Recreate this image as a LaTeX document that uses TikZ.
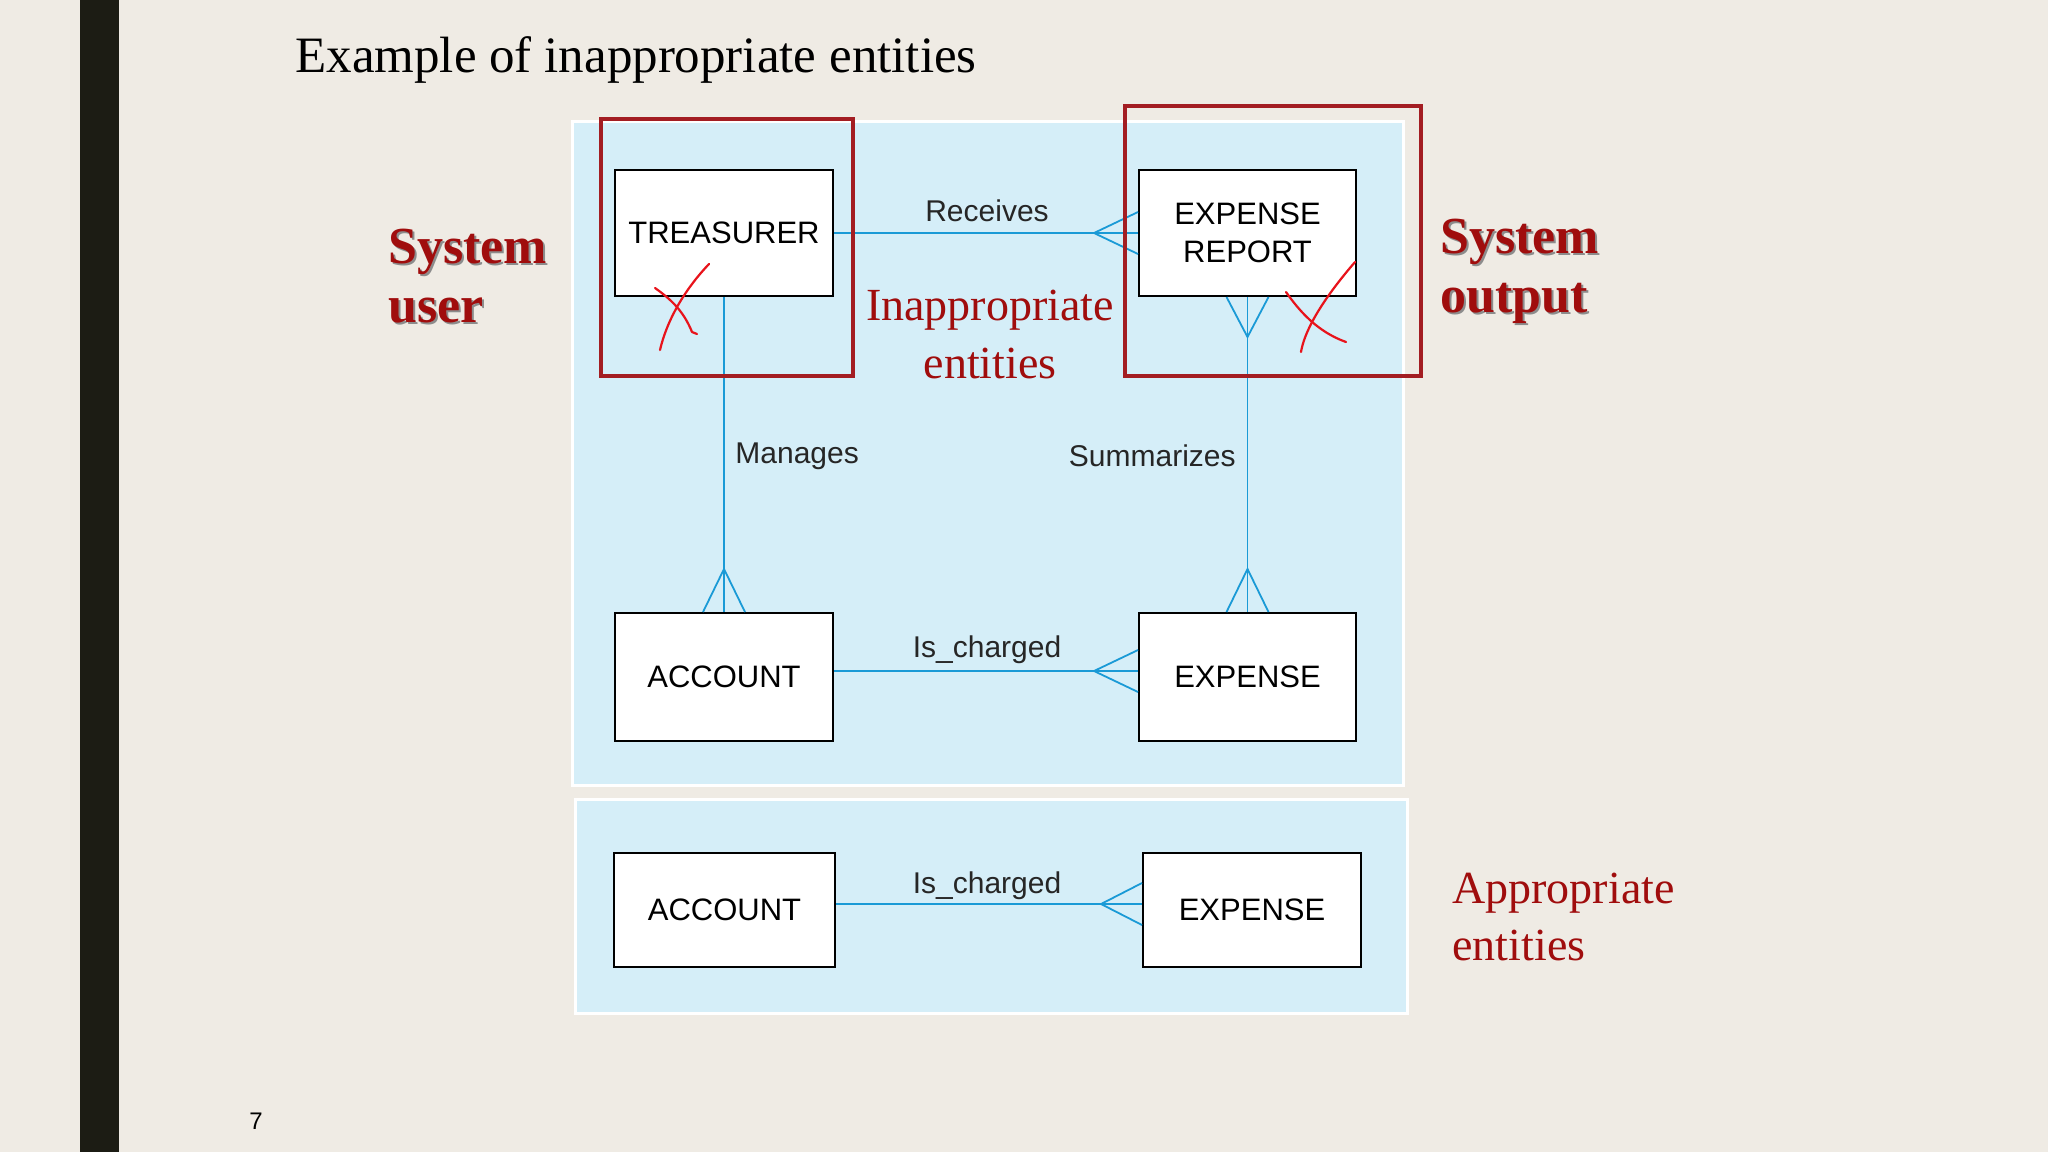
\documentclass[tikz,border=0pt]{standalone}
\usepackage{fontspec}
\setmainfont{Liberation Serif}
\setsansfont{Liberation Sans}
\usetikzlibrary{calc}
\definecolor{slidebg}{HTML}{EFEBE4}
\definecolor{barblack}{HTML}{1C1C14}
\definecolor{panelblue}{HTML}{D5EEF8}
\definecolor{relblue}{HTML}{1A9AD6}
\definecolor{darkred}{HTML}{A00D0D}
\definecolor{boxred}{HTML}{A31D22}
\definecolor{penred}{HTML}{E8131B}
\tikzset{
  panel/.style={fill=panelblue, draw=white, line width=1.5pt},
  ent/.style={draw=black, fill=white, line width=1pt, inner sep=0pt,
    font=\sffamily\fontsize{15.5}{19}\selectfont, align=center},
  rel/.style={draw=relblue, line width=0.9pt},
  rellabel/.style={font=\sffamily\fontsize{15}{18}\selectfont, text=black!85, inner sep=0pt},
  redframe/.style={draw=boxred, line width=1.7pt},
  redtext/.style={font=\fontsize{23}{28}\selectfont, text=darkred, inner sep=0pt},
  boldred/.style={font=\bfseries\fontsize{26}{31}\selectfont, text=darkred, inner sep=0pt},
  boldshadow/.style={font=\bfseries\fontsize{26}{31}\selectfont, text=black!45, inner sep=0pt},
  pen/.style={draw=penred, line width=1.1pt, line cap=round, line join=round}
}
\begin{document}
\begin{tikzpicture}[x=0.5pt,y=-0.5pt]
\useasboundingbox (0,0) rectangle (2048,1152);
\fill[slidebg] (0,0) rectangle (2048,1152);
\fill[barblack] (80,0) rectangle (119,1152);

% title and page number
\node[anchor=base west, inner sep=0pt, font=\fontsize{25.5}{30}\selectfont] (title) at (295,72) {Example of inappropriate entities};
\node[anchor=base west, inner sep=0pt, font=\sffamily\fontsize{12}{14}\selectfont] (pagenum) at (249,1129) {7};

% panels
\draw[panel] (572,121) rectangle (1403,785);
\draw[panel] (575,799) rectangle (1407,1013);

% entities (top panel)
\node[ent, minimum width=109pt, minimum height=63pt] (tre) at (724,233) {TREASURER};
\node[ent, minimum width=108.5pt, minimum height=63pt] (er) at (1247.5,233) {EXPENSE\\REPORT};
\node[ent, minimum width=109pt, minimum height=64pt] (acc) at (724,677) {ACCOUNT};
\node[ent, minimum width=108.5pt, minimum height=64pt] (exp) at (1247.5,677) {EXPENSE};
% entities (bottom panel)
\node[ent, minimum width=110.5pt, minimum height=57pt] (acc2) at (724.5,910) {ACCOUNT};
\node[ent, minimum width=109pt, minimum height=57pt] (exp2) at (1252,910) {EXPENSE};

% Receives
\coordinate (rcA) at (1094,233);
\draw[rel] (tre.east) -- (er.west);
\draw[rel] ($(er.west)+(0,-21)$) -- (rcA) -- ($(er.west)+(0,21)$);
\node[rellabel] (lrec) at (987,211) {Receives};

% Manages
\coordinate (mgA) at (724,569);
\draw[rel] (tre.south) -- (acc.north);
\draw[rel] ($(acc.north)+(-21,0)$) -- (mgA) -- ($(acc.north)+(21,0)$);
\node[rellabel, anchor=west] (lman) at (735,456) {Manages};

% Summarizes
\coordinate (smA) at (1247.5,337);
\coordinate (smB) at (1247.5,569);
\draw[rel] (er.south) -- (exp.north);
\draw[rel] ($(er.south)+(-21,0)$) -- (smA) -- ($(er.south)+(21,0)$);
\draw[rel] ($(exp.north)+(-21,0)$) -- (smB) -- ($(exp.north)+(21,0)$);
\node[rellabel, anchor=east] (lsum) at (1236,456) {Summarizes};

% Is_charged (top)
\coordinate (icA) at (1094,671);
\draw[rel] ($(acc.east)+(0,-6)$) -- ($(exp.west)+(0,-6)$);
\draw[rel] ($(exp.west)+(0,-27)$) -- (icA) -- ($(exp.west)+(0,15)$);
\node[rellabel] (lic1) at (987,650) {Is\_charged};

% Is_charged (bottom)
\coordinate (icB) at (1101,904);
\draw[rel] ($(acc2.east)+(0,-6)$) -- ($(exp2.west)+(0,-6)$);
\draw[rel] ($(exp2.west)+(0,-27)$) -- (icB) -- ($(exp2.west)+(0,15)$);
\node[rellabel] (lic2) at (987,886) {Is\_charged};

% red frames
\draw[redframe] (601,119) rectangle (853,376);
\draw[redframe] (1125,106) rectangle (1421,376);

% hand-drawn crosses
\draw[pen] (709,264) .. controls (688,286) and (668,316) .. (660,350);
\draw[pen] (655,288) .. controls (672,300) and (684,312) .. (692,332) -- (697,334);
\draw[pen] (1355,262) .. controls (1336,284) and (1306,322) .. (1301,352);
\draw[pen] (1286,292) .. controls (1300,312) and (1318,332) .. (1346,342);

% red annotations
\node[redtext] (inap1) at (990,310) {Inappropriate};
\node[redtext, anchor=base] (inap2) at (990,378) {entities};
\node[redtext, anchor=base west] (app1) at (1452,903) {Appropriate};
\node[redtext, anchor=base west] (app2) at (1452,960) {entities};

\node[boldshadow, anchor=base west] (su1s) at (390,265) {System};
\node[boldshadow, anchor=base west] (su2s) at (390,324) {user};
\node[boldred, anchor=base west] (su1) at (388,263) {System};
\node[boldred, anchor=base west] (su2) at (388,322) {user};

\node[boldshadow, anchor=base west] (so1s) at (1442,255) {System};
\node[boldshadow, anchor=base west] (so2s) at (1442,314) {output};
\node[boldred, anchor=base west] (so1) at (1440,253) {System};
\node[boldred, anchor=base west] (so2) at (1440,312) {output};
\end{tikzpicture}
\end{document}
